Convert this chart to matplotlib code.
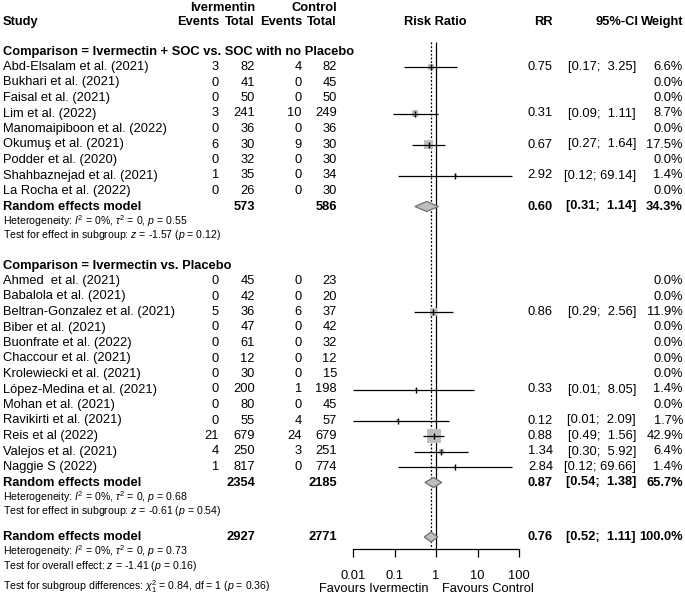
import numpy as np
import matplotlib
matplotlib.use('Agg')
import matplotlib.pyplot as plt

plt.rcParams['font.family'] = ['Liberation Sans', 'DejaVu Sans']
plt.rcParams['mathtext.fontset'] = 'custom'
plt.rcParams['mathtext.rm'] = 'Liberation Sans'
plt.rcParams['mathtext.it'] = 'Liberation Sans:italic'
plt.rcParams['mathtext.bf'] = 'Liberation Sans:bold'

# --- data: comparison 1 (Ivermectin + SOC vs. SOC with no placebo)
names1 = ["Abd-Elsalam et al. (2021)", "Bukhari et al. (2021)", "Faisal et al. (2021)",
          "Lim et al. (2022)", "Manomaipiboon et al. (2022)", "Okumuş et al. (2021)",
          "Podder et al. (2020)", "Shahbaznejad et al. (2021)", "La Rocha et al. (2022)"]
ev_i1 = [3, 0, 0, 3, 0, 6, 0, 1, 0]
n_i1 = [82, 41, 50, 241, 36, 30, 32, 35, 26]
ev_c1 = [4, 0, 0, 10, 0, 9, 0, 0, 0]
n_c1 = [82, 45, 50, 249, 36, 30, 30, 34, 30]
rr1 = [0.75, np.nan, np.nan, 0.31, np.nan, 0.67, np.nan, 2.92, np.nan]
lo1 = [0.17, np.nan, np.nan, 0.09, np.nan, 0.27, np.nan, 0.12, np.nan]
hi1 = [3.25, np.nan, np.nan, 1.11, np.nan, 1.64, np.nan, 69.14, np.nan]
w1 = [6.6, 0.0, 0.0, 8.7, 0.0, 17.5, 0.0, 1.4, 0.0]

# --- data: comparison 2 (Ivermectin vs. placebo)
names2 = ["Ahmed  et al. (2021)", "Babalola et al. (2021)", "Beltran-Gonzalez et al. (2021)",
          "Biber et al. (2021)", "Buonfrate et al. (2022)", "Chaccour et al. (2021)",
          "Krolewiecki et al. (2021)", "López-Medina et al. (2021)", "Mohan et al. (2021)",
          "Ravikirti et al. (2021)", "Reis et al (2022)", "Valejos et al. (2021)", "Naggie S (2022)"]
ev_i2 = [0, 0, 5, 0, 0, 0, 0, 0, 0, 0, 21, 4, 1]
n_i2 = [45, 42, 36, 47, 61, 12, 30, 200, 80, 55, 679, 250, 817]
ev_c2 = [0, 0, 6, 0, 0, 0, 0, 1, 0, 4, 24, 3, 0]
n_c2 = [23, 20, 37, 42, 32, 12, 15, 198, 45, 57, 679, 251, 774]
rr2 = [np.nan, np.nan, 0.86, np.nan, np.nan, np.nan, np.nan, 0.33, np.nan, 0.12, 0.88, 1.34, 2.84]
lo2 = [np.nan, np.nan, 0.29, np.nan, np.nan, np.nan, np.nan, 0.01, np.nan, 0.01, 0.49, 0.30, 0.12]
hi2 = [np.nan, np.nan, 2.56, np.nan, np.nan, np.nan, np.nan, 8.05, np.nan, 2.09, 1.56, 5.92, 69.66]
w2 = [0.0, 0.0, 11.9, 0.0, 0.0, 0.0, 0.0, 1.4, 0.0, 1.7, 42.9, 6.4, 1.4]

# pooled estimates: subgroup 1, subgroup 2, overall
pool_rr = [0.60, 0.87, 0.76]
pool_lo = [0.31, 0.54, 0.52]
pool_hi = [1.14, 1.38, 1.11]
pool_w = [34.3, 65.7, 100.0]
pool_ni = [573, 2354, 2927]
pool_nc = [586, 2185, 2771]

het_txt = ["Heterogeneity: $I^2$ = 0%, $\\tau^2$ = 0, $p$ = 0.55",
           "Heterogeneity: $I^2$ = 0%, $\\tau^2$ = 0, $p$ = 0.68",
           "Heterogeneity: $I^2$ = 0%, $\\tau^2$ = 0, $p$ = 0.73"]
test_txt = ["Test for effect in subgroup: $z$ = -1.57 ($p$ = 0.12)",
            "Test for effect in subgroup: $z$ = -0.61 ($p$ = 0.54)",
            "Test for overall effect: $z$ = -1.41 ($p$ = 0.16)"]
subgroup_txt = "Test for subgroup differences: $\\chi^2_1$ = 0.84, df = 1 ($p$ = 0.36)"
titles = ["Comparison = Ivermectin + SOC vs. SOC with no Placebo",
          "Comparison = Ivermectin vs. Placebo"]

ticks = [0.01, 0.1, 1, 10, 100]
tick_labels = ["0.01", "0.1", "1", "10", "100"]

# --- layout (pixel rows)
W, H = 685, 599
pitch = 15.5
y_title1 = 52
y_st1 = 67 + pitch * np.arange(len(names1))
y_pool1 = y_st1[-1] + pitch
y_title2 = 266
y_st2 = 281 + pitch * np.arange(len(names2))
y_pool2 = y_st2[-1] + pitch
y_all = 537
y_pool = [y_pool1, y_pool2, y_all]

FS = 9.3
FS_S = 7.6
x_ev_i, x_n_i, x_ev_c, x_n_c = 219, 255, 302, 337
x_rr, x_ci, x_w = 553, 636, 683

fig = plt.figure(figsize=(W / 100, H / 100), dpi=100)
ax_t = fig.add_axes([0, 0, 1, 1])
ax_t.set_xlim(0, W)
ax_t.set_ylim(H, 0)
ax_t.axis('off')


def ci_str(lo, hi):
    pad = " " if hi < 10 else ""
    return f"[{lo:.2f}; {pad}{hi:.2f}]"


# headers
ax_t.text(x_n_i, 8, "Ivermentin", ha='right', va='center', fontsize=FS, fontweight='bold')
ax_t.text(x_n_c, 8, "Control", ha='right', va='center', fontsize=FS, fontweight='bold')
hy = 22
ax_t.text(3, hy, "Study", ha='left', va='center', fontsize=FS, fontweight='bold')
for x, s in zip([x_ev_i, x_n_i, x_ev_c, x_n_c], ["Events", "Total", "Events", "Total"]):
    ax_t.text(x, hy, s, ha='right', va='center', fontsize=FS, fontweight='bold')
ax_t.text(435, hy, "Risk Ratio", ha='center', va='center', fontsize=FS, fontweight='bold')
ax_t.text(x_rr, hy, "RR", ha='right', va='center', fontsize=FS, fontweight='bold')
ax_t.text(x_ci + 3, hy, "95%-CI", ha='right', va='center', fontsize=FS, fontweight='bold')
ax_t.text(x_w, hy, "Weight", ha='right', va='center', fontsize=FS, fontweight='bold')

groups = [
    (names1, ev_i1, n_i1, ev_c1, n_c1, rr1, lo1, hi1, w1, y_st1, y_title1),
    (names2, ev_i2, n_i2, ev_c2, n_c2, rr2, lo2, hi2, w2, y_st2, y_title2),
]

# forest axes: bottom spine sits at pixel row 549
ax_f = fig.add_axes([353 / W, (H - 549) / H, 166 / W, 549 / H])
ax_f.patch.set_alpha(0)
ax_f.set_xscale('log')
ax_f.set_xlim(0.01, 100)
ax_f.set_ylim(549, 0)

for g, (nm, ei, ni, ec, nc, rr, lo, hi, w, ys, yt) in enumerate(groups):
    ax_t.text(3, yt, titles[g], ha='left', va='center', fontsize=FS, fontweight='bold')
    for k in range(len(nm)):
        y = ys[k]
        ax_t.text(3, y, nm[k], ha='left', va='center', fontsize=FS)
        for x, v in zip([x_ev_i, x_n_i, x_ev_c, x_n_c], [ei[k], ni[k], ec[k], nc[k]]):
            ax_t.text(x, y, str(v), ha='right', va='center', fontsize=FS)
        ax_t.text(x_w, y, f"{w[k]:.1f}%", ha='right', va='center', fontsize=FS)
        if not np.isnan(rr[k]):
            ax_t.text(x_rr, y, f"{rr[k]:.2f}", ha='right', va='center', fontsize=FS)
            ax_t.text(x_ci, y, ci_str(lo[k], hi[k]), ha='right', va='center', fontsize=FS)
    rr_a = np.array(rr)
    ok = ~np.isnan(rr_a)
    ys_ok = np.array(ys)[ok]
    side_px = 14 * np.sqrt(np.array(w)[ok] / 42.9)
    ax_f.hlines(ys_ok, np.array(lo)[ok], np.array(hi)[ok], color='black', lw=0.9, zorder=3)
    ax_f.scatter(rr_a[ok], ys_ok, marker='s', s=(side_px * 0.72) ** 2,
                 color='#bebebe', linewidths=0, zorder=2)
    ax_f.scatter(rr_a[ok], ys_ok, marker='|', s=14, color='black', linewidths=1, zorder=4)

# pooled rows
for k in range(3):
    y = y_pool[k]
    ax_t.text(3, y, "Random effects model", ha='left', va='center', fontsize=FS, fontweight='bold')
    ax_t.text(x_n_i, y, str(pool_ni[k]), ha='right', va='center', fontsize=FS, fontweight='bold')
    ax_t.text(x_n_c, y, str(pool_nc[k]), ha='right', va='center', fontsize=FS, fontweight='bold')
    ax_t.text(x_rr, y, f"{pool_rr[k]:.2f}", ha='right', va='center', fontsize=FS, fontweight='bold')
    ax_t.text(x_ci, y, ci_str(pool_lo[k], pool_hi[k]), ha='right', va='center',
              fontsize=FS, fontweight='bold')
    ax_t.text(x_w, y, f"{pool_w[k]:.1f}%", ha='right', va='center', fontsize=FS, fontweight='bold')
    ax_t.text(3, y + 14.5, het_txt[k], ha='left', va='center', fontsize=FS_S)
    ax_t.text(3, y + 29, test_txt[k], ha='left', va='center', fontsize=FS_S)
    ax_f.fill([pool_lo[k], pool_rr[k], pool_hi[k], pool_rr[k]], [y, y - 5, y, y + 5],
              facecolor='#bebebe', edgecolor='#707070', lw=0.9, zorder=3)

ax_t.text(3, 587, subgroup_txt, ha='left', va='center', fontsize=FS_S)

# reference lines
ax_f.vlines(1, 42, 549, color='black', lw=0.9, zorder=1)
ax_f.vlines(pool_rr[2], 42, 549, color='black', lw=0.9, linestyles=(0, (1.5, 1.5)), zorder=1)

for sp in ['top', 'left', 'right']:
    ax_f.spines[sp].set_visible(False)
ax_f.spines['bottom'].set_linewidth(0.9)
ax_f.set_yticks([])
ax_f.set_xticks(ticks)
ax_f.set_xticklabels(tick_labels, fontsize=FS)
ax_f.minorticks_off()
ax_f.tick_params(axis='x', direction='out', length=6, width=0.9, pad=9)

ax_t.text(429, 589, "Favours Ivermectin", ha='right', va='center', fontsize=FS)
ax_t.text(442, 589, "Favours Control", ha='left', va='center', fontsize=FS)

fig.savefig('out.png', dpi=100)
